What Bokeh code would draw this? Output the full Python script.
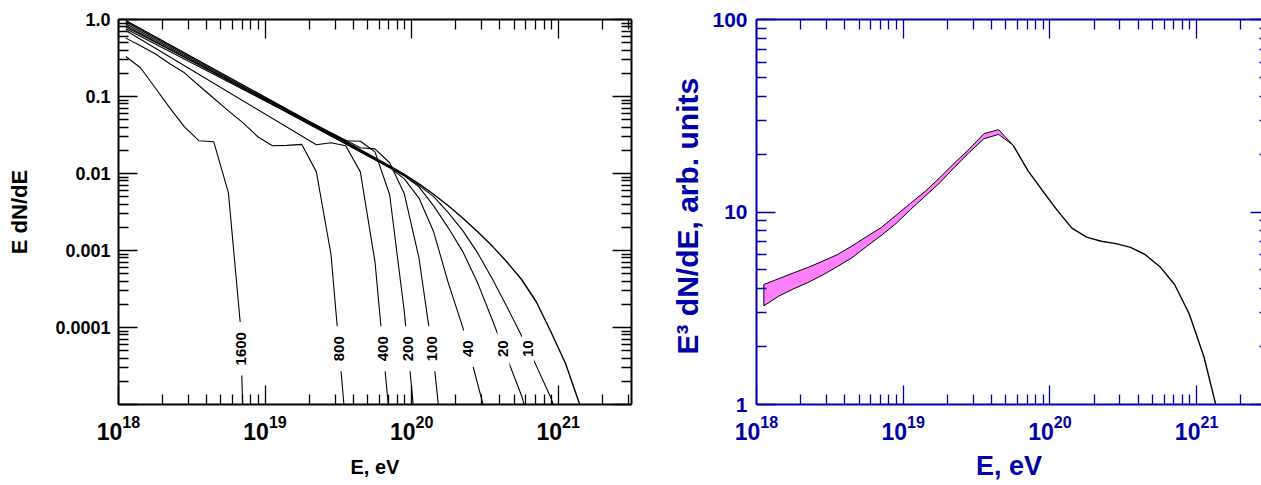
import math
import numpy as np
from bokeh.plotting import figure
from bokeh.models import (Range1d, LogAxis, FixedTicker, CustomJSTickFormatter,
                          LogTickFormatter, Label)
from bokeh.layouts import row
from bokeh.embed import file_html
from bokeh.resources import INLINE

FONT = "Liberation Sans"
BLUE = "#0000AA"
PINK = "#FF80FF"

# ---------------------------------------------------------------------------
# Left panel: E dN/dE after propagation; curves labelled by distance (Mpc).
# Energies are given as log10(E / eV).
# ---------------------------------------------------------------------------
lgE_src = [18.05, 19.85, 19.95, 20.05, 20.15, 20.25, 20.35, 20.45, 20.55,
           20.65, 20.75, 20.85, 20.95, 21.05, 21.15]
f_src = [0.97, 0.0126, 0.00977, 0.00734, 0.00537, 0.00381, 0.00262, 0.00175,
         0.00114, 7.1e-4, 4.2e-4, 2.16e-4, 8.8e-5, 3.4e-5, 9.6e-6]

lgE_d10 = [18.05, 19.85, 19.95, 20.05, 20.15, 20.25, 20.35, 20.45, 20.55,
           20.65, 20.75, 20.85, 20.95, 21.05]
f_d10 = [0.925, 0.0122, 0.0095, 0.0070, 0.0050, 0.0031, 0.0018, 9.3e-4,
         4.3e-4, 1.86e-4, 7.8e-5, 3.2e-5, 1.22e-5, 3.5e-6]

lgE_d20 = [18.05, 19.85, 19.95, 20.05, 20.15, 20.25, 20.35, 20.45, 20.55,
           20.65, 20.75, 20.85]
f_d20 = [0.88, 0.0120, 0.0093, 0.0067, 0.0038, 0.00197, 9.6e-4, 3.8e-4,
         1.26e-4, 4.05e-5, 1.3e-5, 2.7e-6]

lgE_d40 = [18.05, 19.85, 19.95, 20.05, 20.15, 20.25, 20.35, 20.45, 20.55]
f_d40 = [0.836, 0.0119, 0.0085, 0.0048, 0.00175, 3.8e-4, 9.9e-5, 1.86e-5, 3.5e-6]

lgE_d100 = [18.05, 19.65, 19.75, 19.85, 19.95, 20.05, 20.15, 20.25]
f_d100 = [0.797, 0.0216, 0.0209, 0.0138, 0.00545, 8.0e-4, 3.8e-5, 5.8e-7]

lgE_d200 = [18.05, 19.45, 19.55, 19.65, 19.75, 19.85, 19.95, 20.05]
f_d200 = [0.757, 0.0318, 0.0266, 0.0262, 0.0191, 0.0053, 1.6e-4, 1.65e-6]

lgE_d400 = [18.05, 19.35, 19.45, 19.55, 19.65, 19.75, 19.85]
f_d400 = [0.72, 0.0236, 0.0251, 0.0229, 0.0105, 7.1e-4, 6.3e-6]

lgE_d800 = [18.05, 18.15, 18.25, 18.35, 18.45, 18.55, 18.65, 18.75, 18.85,
            18.95, 19.05, 19.15, 19.25, 19.35, 19.45, 19.55]
f_d800 = [0.573, 0.455, 0.359, 0.266, 0.203, 0.138, 0.0948, 0.0652, 0.0455,
          0.030, 0.0229, 0.0232, 0.0239, 0.0105, 8.8e-4, 5.4e-6]

lgE_d1600 = [18.05, 18.15, 18.25, 18.35, 18.45, 18.55, 18.65, 18.75, 18.83, 18.852]
f_d1600 = [0.331, 0.236, 0.130, 0.0713, 0.0404, 0.0266, 0.0258, 0.0056,
           1.19e-4, 4.7e-6]

# ---------------------------------------------------------------------------
# Right panel: E^3 dN/dE, band (lower/upper) and the common high-energy tail.
# ---------------------------------------------------------------------------
lgE_band = [18.05, 18.15, 18.25, 18.35, 18.45, 18.55, 18.65, 18.75, 18.85,
            18.95, 19.05, 19.15, 19.25, 19.35, 19.45, 19.55, 19.65, 19.75]
e3_hi = [4.2, 4.5, 4.82, 5.15, 5.55, 6.0, 6.65, 7.45, 8.3, 9.6, 11.1, 12.8,
         15.1, 18.0, 21.2, 25.5, 26.8, 22.2]
e3_lo = [3.25, 3.65, 3.98, 4.3, 4.7, 5.2, 5.78, 6.62, 7.55, 8.7, 10.3, 12.1,
         14.2, 17.1, 20.4, 24.0, 25.3, 22.2]

lgE_tail = [19.75, 19.85, 19.95, 20.05, 20.15, 20.25, 20.35, 20.45, 20.55,
            20.65, 20.75, 20.85, 20.95, 21.05, 21.15]
e3_tail = [22.2, 16.4, 12.9, 10.2, 8.25, 7.4, 7.05, 6.85, 6.55, 6.0, 5.2, 4.2,
           2.95, 1.77, 0.87]

x_major = [1e18, 1e19, 1e20, 1e21]


def energies(lg):
    return [10.0 ** e for e in lg]


H = 485
TOP, BOTTOM = 19, 81

blank = CustomJSTickFormatter(code="return '';")


def style_axis(ax, color, ticks, minor, formatter, size, standoff=8,
               major_in=19, minor_in=10, line=True):
    ax.ticker = FixedTicker(ticks=ticks, minor_ticks=minor)
    ax.formatter = formatter
    ax.axis_line_color = color if line else None
    ax.axis_line_width = 2
    ax.major_tick_line_color = color
    ax.minor_tick_line_color = color
    ax.major_tick_line_width = 1.3
    ax.minor_tick_line_width = 1.3
    ax.major_tick_in = major_in
    ax.major_tick_out = 0
    ax.minor_tick_in = minor_in
    ax.minor_tick_out = 0
    ax.major_label_text_font = FONT
    ax.major_label_text_font_style = "bold"
    ax.major_label_text_font_size = f"{size}px"
    ax.major_label_text_color = color
    ax.major_label_standoff = standoff


def axis_title(ax, label, size, color, standoff):
    ax.axis_label = label
    ax.axis_label_text_font = FONT
    ax.axis_label_text_font_style = "bold"
    ax.axis_label_text_font_size = f"{size}px"
    ax.axis_label_text_color = color
    ax.axis_label_standoff = standoff


def x_minor(xend):
    return [k * 10.0 ** n for n in range(18, 22) for k in range(2, 10)
            if k * 10.0 ** n < xend]


def make_fig(width, left, right, xend, ylo, yhi):
    p = figure(width=width, height=H, x_axis_type="log", y_axis_type="log",
               x_range=Range1d(1e18, xend), y_range=Range1d(ylo, yhi),
               output_backend="svg", toolbar_location=None,
               min_border_left=left, min_border_right=right,
               min_border_top=TOP, min_border_bottom=BOTTOM)
    p.outline_line_color = None
    p.xgrid.visible = False
    p.ygrid.visible = False
    p.background_fill_color = "white"
    p.border_fill_color = "white"
    return p


# ---------------------------------------------------------------------------
# left panel
# ---------------------------------------------------------------------------
W1, L1, R1 = 640, 118, 9
X1_END = 10 ** 21.5
p1 = make_fig(W1, L1, R1, X1_END, 1e-5, 1.0)

y1_major = [1e-5, 1e-4, 1e-3, 1e-2, 1e-1, 1.0]
y1_minor = [k * 10.0 ** n for n in range(-5, 0) for k in range(2, 10)]
y1_fmt = CustomJSTickFormatter(code="""
const e = Math.round(Math.log10(tick));
if (e == 0) return "1.0";
if (e < -4) return "";
return tick.toFixed(-e);
""")

style_axis(p1.xaxis[0], "black", x_major, x_minor(X1_END),
           LogTickFormatter(min_exponent=0), 23, 10)
axis_title(p1.xaxis[0], "E, eV", 20, "black", 13)
style_axis(p1.yaxis[0], "black", y1_major, y1_minor, y1_fmt, 18, 8)
axis_title(p1.yaxis[0], "E dN/dE", 22, "black", 20)

ax_top1 = LogAxis()
p1.add_layout(ax_top1, "above")
style_axis(ax_top1, "black", x_major, x_minor(X1_END), blank, 1, 0)
ax_right1 = LogAxis()
p1.add_layout(ax_right1, "right")
style_axis(ax_right1, "black", y1_major, y1_minor, blank, 1, 0)

curves = [(lgE_src, f_src, None), (lgE_d10, f_d10, "10"), (lgE_d20, f_d20, "20"),
          (lgE_d40, f_d40, "40"), (lgE_d100, f_d100, "100"),
          (lgE_d200, f_d200, "200"), (lgE_d400, f_d400, "400"),
          (lgE_d800, f_d800, "800"), (lgE_d1600, f_d1600, "1600")]

for lg, f, name in curves:
    p1.line(energies(lg), f, line_color="black",
            line_width=1.4 if name is None else 1.1)

# distance tags sit where each curve falls through a common level
tag_level = 5.3e-5


def crossing(lg, f, level):
    lv = np.log10(f)
    ll = math.log10(level)
    for i in range(len(lv) - 1, 0, -1):
        if lv[i - 1] >= ll > lv[i]:
            t = (lv[i - 1] - ll) / (lv[i - 1] - lv[i])
            return lg[i - 1] + t * (lg[i] - lg[i - 1])
    return None


for lg, f, name in curves:
    if name is None:
        continue
    xe = crossing(lg, f, tag_level)
    p1.add_layout(Label(x=10 ** xe, y=tag_level, text=name, angle=math.pi / 2,
                        text_align="center", text_baseline="middle",
                        text_font=FONT, text_font_style="bold",
                        text_font_size="15px", text_color="black",
                        background_fill_color="white", padding=(10, 1)))

# ---------------------------------------------------------------------------
# right panel
# ---------------------------------------------------------------------------
W2, L2, R2 = 621, 116, 0
FRAME_W2 = W2 - L2 - R2
X2_END = 10 ** (18 + FRAME_W2 / 146.7)
p2 = make_fig(W2, L2, R2, X2_END, 1.0, 100.0)

y2_major = [1.0, 10.0, 100.0]
y2_minor = [k * 10.0 ** n for n in range(0, 2) for k in range(2, 10)]
y2_fmt = CustomJSTickFormatter(code="return tick.toFixed(0);")

style_axis(p2.xaxis[0], BLUE, x_major, x_minor(X2_END),
           LogTickFormatter(min_exponent=0), 23, 10)
axis_title(p2.xaxis[0], "E, eV", 27, BLUE, 8)
style_axis(p2.yaxis[0], BLUE, y2_major, y2_minor, y2_fmt, 21, 9)
axis_title(p2.yaxis[0], "E\u00b3 dN/dE,  arb. units", 30, BLUE, 5)

ax_top2 = LogAxis()
p2.add_layout(ax_top2, "above")
style_axis(ax_top2, BLUE, x_major, x_minor(X2_END), blank, 1, 0)
ax_right2 = LogAxis()
p2.add_layout(ax_right2, "right")
style_axis(ax_right2, BLUE, y2_major, y2_minor, blank, 1, 0,
           major_in=11, minor_in=2, line=False)

band_x = energies(lgE_band)
p2.patch(band_x + band_x[::-1], e3_hi + e3_lo[::-1], fill_color=PINK,
         line_color="black", line_width=1.0)
p2.line(energies(lgE_tail), e3_tail, line_color="black", line_width=1.4)

layout = row(p1, p2)
open("out.html", "w").write(file_html(layout, INLINE))
